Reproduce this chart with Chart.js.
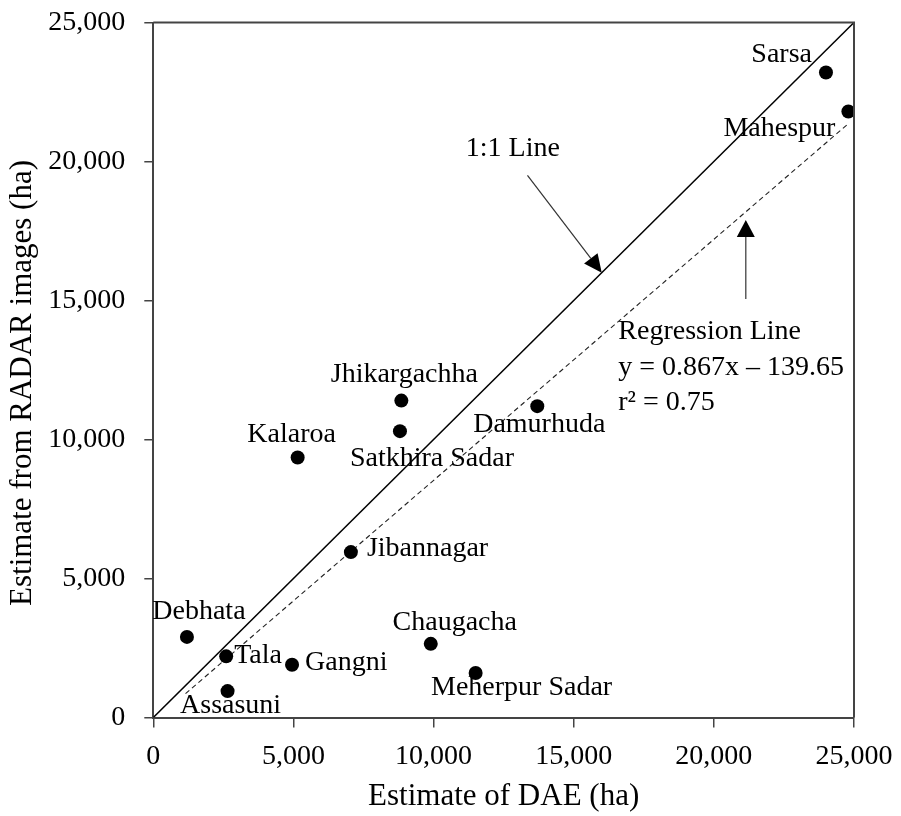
<!DOCTYPE html>
<html>
<head>
<meta charset="utf-8">
<script src="https://cdn.jsdelivr.net/npm/chart.js@4/dist/chart.umd.min.js"></script>
<style>
  html, body { margin: 0; padding: 0; background: #fff; }
  #wrap { width: 901px; height: 816px; position: relative; }
</style>
</head>
<body>
<div id="wrap"><canvas id="chart"></canvas></div>
<script>
// Upazila-level area estimates (ha): DAE survey vs. RADAR imagery
const districts = ['Sarsa', 'Mahespur', 'Jhikargachha', 'Satkhira Sadar', 'Kalaroa', 'Damurhuda',
  'Jibannagar', 'Debhata', 'Tala', 'Gangni', 'Chaugacha', 'Meherpur Sadar', 'Assasuni'];
const daeEstimate = [24000, 24800, 8850, 8800, 5150, 13700, 7050, 1200, 2600, 4950, 9900, 11500, 2650];
const radarEstimate = [23200, 21800, 11400, 10300, 9350, 11200, 5950, 2900, 2200, 1900, 2650, 1600, 950];

// Axis ticks (ha)
const axisTicks = [0, 5000, 10000, 15000, 20000, 25000];

// Fitted regression, as printed on the chart
const regSlope = 0.867;
const regIntercept = -139.65;
const regXRange = [1150, 24800];
const regText = ['Regression Line', 'y = 0.867x \u2013 139.65', 'r\u00B2 = 0.75'];

// Where each district name sits relative to its marker (pixels)
const labelPlacement = {
  'Sarsa':          { dx: -14, dy: -18, align: 'right' },
  'Mahespur':       { dx: -13, dy: 17,  align: 'right' },
  'Jhikargachha':   { dx: 3,   dy: -26, align: 'center' },
  'Satkhira Sadar': { dx: 32,  dy: 27,  align: 'center' },
  'Kalaroa':        { dx: -6,  dy: -23, align: 'center' },
  'Damurhuda':      { dx: 2,   dy: 19,  align: 'center' },
  'Jibannagar':     { dx: 16,  dy: -3,  align: 'left' },
  'Debhata':        { dx: 12,  dy: -25, align: 'center' },
  'Tala':           { dx: 8,   dy: -1,  align: 'left' },
  'Gangni':         { dx: 13,  dy: -2,  align: 'left' },
  'Chaugacha':      { dx: 24,  dy: -21, align: 'center' },
  'Meherpur Sadar': { dx: 46,  dy: 15,  align: 'center' },
  'Assasuni':       { dx: 3,   dy: 15,  align: 'center' }
};

// Callout anchors in data units
const oneToOneCallout = { text: '1:1 Line', textAt: [11150, 20450], from: [13350, 19500], to: [16000, 16000] };
const regCallout = { textAt: [16590, 13867], from: [21140, 15054], to: [21140, 17895] };

const SERIF = '"Liberation Serif", "Times New Roman", serif';
const AXIS_COLOR = '#444';

const points = districts.map((name, i) => ({ x: daeEstimate[i], y: radarEstimate[i], name }));
const identityLine = [{ x: axisTicks[0], y: axisTicks[0] }, { x: axisTicks[axisTicks.length - 1], y: axisTicks[axisTicks.length - 1] }];
const regLine = regXRange.map(x => ({ x, y: regSlope * x + regIntercept }));

function arrow(ctx, x0, y0, x1, y1, headLen, headHalf) {
  const ang = Math.atan2(y1 - y0, x1 - x0);
  const bx = x1 - headLen * Math.cos(ang), by = y1 - headLen * Math.sin(ang);
  ctx.beginPath();
  ctx.moveTo(x0, y0);
  ctx.lineTo(bx, by);
  ctx.stroke();
  ctx.beginPath();
  ctx.moveTo(x1, y1);
  ctx.lineTo(bx + headHalf * Math.sin(ang), by - headHalf * Math.cos(ang));
  ctx.lineTo(bx - headHalf * Math.sin(ang), by + headHalf * Math.cos(ang));
  ctx.closePath();
  ctx.fill();
}

const decorations = {
  id: 'decorations',
  afterDatasetsDraw(chart) {
    const { ctx, chartArea: a, scales: { x, y } } = chart;
    const px = v => x.getPixelForValue(v), py = v => y.getPixelForValue(v);
    ctx.save();

    // closing frame on top and right
    ctx.strokeStyle = AXIS_COLOR;
    ctx.lineWidth = 2;
    ctx.beginPath();
    ctx.moveTo(a.left, a.top);
    ctx.lineTo(a.right, a.top);
    ctx.lineTo(a.right, a.bottom);
    ctx.stroke();

    // district names
    ctx.fillStyle = '#000';
    ctx.font = '28px ' + SERIF;
    ctx.textBaseline = 'middle';
    points.forEach(p => {
      const pl = labelPlacement[p.name];
      ctx.textAlign = pl.align;
      ctx.fillText(p.name, px(p.x) + pl.dx, py(p.y) + pl.dy);
    });

    // 1:1 callout
    ctx.textAlign = 'left';
    ctx.fillText(oneToOneCallout.text, px(oneToOneCallout.textAt[0]), py(oneToOneCallout.textAt[1]));
    ctx.strokeStyle = '#333';
    ctx.fillStyle = '#000';
    ctx.lineWidth = 1.2;
    arrow(ctx, px(oneToOneCallout.from[0]), py(oneToOneCallout.from[1]),
      px(oneToOneCallout.to[0]), py(oneToOneCallout.to[1]), 18, 8.5);

    // regression callout
    arrow(ctx, px(regCallout.from[0]), py(regCallout.from[1]),
      px(regCallout.to[0]), py(regCallout.to[1]), 17, 9);
    const tx = px(regCallout.textAt[0]), ty = py(regCallout.textAt[1]);
    regText.forEach((t, i) => ctx.fillText(t, tx, ty + i * 35.5));

    // y-axis title
    ctx.save();
    ctx.font = '31px ' + SERIF;
    ctx.textAlign = 'center';
    ctx.translate(23, 383);
    ctx.rotate(-Math.PI / 2);
    ctx.fillText('Estimate from RADAR images (ha)', 0, 0);
    ctx.restore();

    ctx.restore();
  }
};

new Chart(document.getElementById('chart'), {
  type: 'scatter',
  data: {
    datasets: [
      {
        label: 'Upazilas',
        data: points,
        pointRadius: 7,
        pointHoverRadius: 7,
        pointBackgroundColor: '#000',
        pointBorderColor: '#000',
        pointBorderWidth: 0,
        showLine: false,
        order: 0
      },
      {
        label: '1:1 Line',
        data: identityLine,
        showLine: true,
        borderColor: '#000',
        borderWidth: 1.5,
        pointRadius: 0,
        fill: false,
        order: 1
      },
      {
        label: 'Regression Line',
        data: regLine,
        showLine: true,
        borderColor: '#222',
        borderWidth: 1.1,
        borderDash: [5, 3.5],
        pointRadius: 0,
        fill: false,
        order: 2
      }
    ]
  },
  options: {
    responsive: true,
    maintainAspectRatio: false,
    animation: false,
    events: [],
    layout: { padding: { top: 22.5, right: 47, left: 0, bottom: 0 } },
    plugins: {
      legend: { display: false },
      tooltip: { enabled: false }
    },
    scales: {
      x: {
        type: 'linear',
        min: axisTicks[0],
        max: axisTicks[axisTicks.length - 1],
        afterBuildTicks: s => { s.ticks = axisTicks.map(v => ({ value: v })); },
        afterFit: s => { s.height = 98.5; s.paddingLeft = 0; s.paddingRight = 0; },
        border: { display: true, color: AXIS_COLOR, width: 2 },
        grid: { drawOnChartArea: false, drawTicks: true, tickLength: 10, color: AXIS_COLOR, lineWidth: 1.5 },
        ticks: {
          padding: 12,
          color: '#000',
          font: { family: SERIF, size: 28 },
          callback: v => v.toLocaleString('en-US')
        },
        title: {
          display: true,
          text: 'Estimate of DAE (ha)',
          color: '#000',
          font: { family: SERIF, size: 31 },
          padding: { top: 0, bottom: 1 }
        }
      },
      y: {
        type: 'linear',
        min: axisTicks[0],
        max: axisTicks[axisTicks.length - 1],
        afterBuildTicks: s => { s.ticks = axisTicks.map(v => ({ value: v })); },
        afterFit: s => { s.width = 153.3; s.paddingTop = 0; s.paddingBottom = 0; },
        border: { display: true, color: AXIS_COLOR, width: 2 },
        grid: { drawOnChartArea: false, drawTicks: true, tickLength: 9, color: AXIS_COLOR, lineWidth: 1.5 },
        ticks: {
          padding: 19,
          color: '#000',
          font: { family: SERIF, size: 28 },
          callback: v => v.toLocaleString('en-US')
        }
      }
    }
  },
  plugins: [decorations]
});
</script>
</body>
</html>
